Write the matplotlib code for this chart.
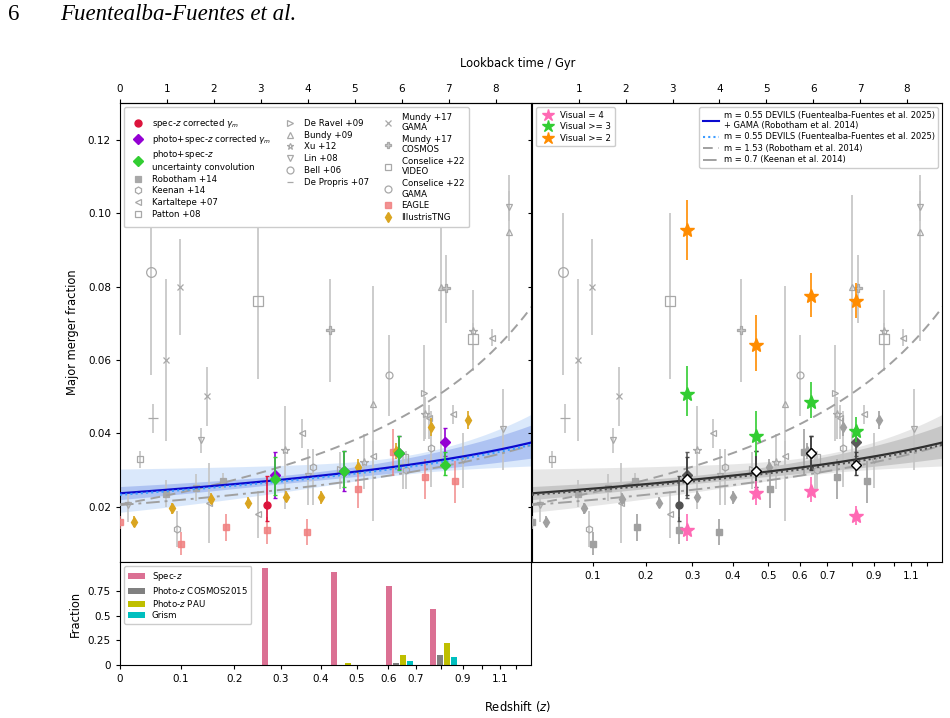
import numpy as np
import matplotlib
matplotlib.use('Agg')
import matplotlib.pyplot as plt
from matplotlib.lines import Line2D

# ---------------- cosmology helper (flat LCDM, H0=70, Om=0.3) ----------------
def lookback(z):
    z = np.atleast_1d(np.asarray(z, float))
    out = []
    for zz in z:
        zg = np.linspace(0, zz, 400)
        E = np.sqrt(0.3 * (1 + zg) ** 3 + 0.7)
        out.append(np.trapezoid(1.0 / ((1 + zg) * E), zg) * 977.8 / 70.0)
    return np.array(out)

# ---------------- literature data (x = lookback time / Gyr) ----------------
lit_names = ['Robotham +14', 'Keenan +14', 'Kartaltepe +07', 'Patton +08',
             'De Ravel +09', 'Bundy +09', 'Xu +12', 'Lin +08', 'Bell +06',
             'De Propris +07', 'Mundy +17\nGAMA', 'Mundy +17\nCOSMOS',
             'Conselice +22\nVIDEO', 'Conselice +22\nGAMA']

robotham_x = [0.99, 1.62, 2.19]
robotham_y = [0.0235, 0.0252, 0.0271]
robotham_lo = [0.0200, 0.0215, 0.0249]
robotham_hi = [0.0273, 0.0290, 0.0292]

keenan_x = [1.21, 4.11, 6.09, 6.63]
keenan_y = [0.0140, 0.0310, 0.0300, 0.0360]
keenan_lo = [0.0090, 0.0204, 0.0249, 0.0254]
keenan_hi = [0.0190, 0.0358, 0.0353, 0.0462]

kartaltepe_x = [1.90, 2.94, 3.87, 5.39, 6.58, 7.09, 7.92]
kartaltepe_y = [0.0211, 0.0181, 0.0401, 0.0339, 0.0441, 0.0453, 0.0661]
kartaltepe_lo = [0.0102, 0.0115, 0.0360, 0.0300, 0.0385, 0.0426, 0.0638]
kartaltepe_hi = [0.0320, 0.0244, 0.0439, 0.0380, 0.0477, 0.0477, 0.0684]

patton_x = [0.43]
patton_y = [0.0330]
patton_lo = [0.0305]
patton_hi = [0.0353]

deravel_x = [4.69, 6.47]
deravel_y = [0.0303, 0.0510]
deravel_lo = [0.0250, 0.0380]
deravel_hi = [0.0350, 0.0640]

bundy_x = [5.39, 6.83, 8.28]
bundy_y = [0.0480, 0.0800, 0.0949]
bundy_lo = [0.0161, 0.0303, 0.0652]
bundy_hi = [0.0801, 0.1050, 0.1105]

xu_x = [3.52, 5.20, 6.50, 7.52]
xu_y = [0.0355, 0.0323, 0.0453, 0.0679]
xu_lo = [0.0193, 0.0249, 0.0385, 0.0570]
xu_hi = [0.0474, 0.0398, 0.0500, 0.0790]

lin_x = [0.18, 1.72, 4.01, 7.30, 8.16, 8.28]
lin_y = [0.0204, 0.0382, 0.0283, 0.0328, 0.0412, 0.1018]
lin_lo = [0.0160, 0.0346, 0.0204, 0.0251, 0.0300, 0.0980]
lin_hi = [0.0240, 0.0414, 0.0358, 0.0400, 0.0520, 0.1060]

bell_x = [5.72]
bell_y = [0.0559]
bell_lo = [0.0448]
bell_hi = [0.0668]

depropris_x = [0.70]
depropris_y = [0.0441]
depropris_lo = [0.0400]
depropris_hi = [0.0480]

mundyg_x = [0.98, 1.28, 1.86]
mundyg_y = [0.0600, 0.0800, 0.0501]
mundyg_lo = [0.0380, 0.0668, 0.0419]
mundyg_hi = [0.0821, 0.0931, 0.0581]

mundyc_x = [4.47, 6.95]
mundyc_y = [0.0682, 0.0795]
mundyc_lo = [0.0540, 0.0702]
mundyc_hi = [0.0822, 0.0885]

conv_x = [2.94, 6.03, 7.52]
conv_y = [0.0761, 0.0330, 0.0657]
conv_lo = [0.0549, 0.0249, 0.0600]
conv_hi = [0.1000, 0.0350, 0.0700]

cong_x = [0.67]
cong_y = [0.0839]
cong_lo = [0.0560]
cong_hi = [0.1000]

# ---------------- simulations ----------------
eagle_x = [0.00, 1.30, 2.25, 3.14, 3.99, 5.07, 5.81, 6.50, 7.14]
eagle_y = [0.0158, 0.0099, 0.0145, 0.0137, 0.0131, 0.0249, 0.0349, 0.0281, 0.0270]
eagle_lo = [0.0140, 0.0068, 0.0108, 0.0100, 0.0095, 0.0196, 0.0283, 0.0222, 0.0211]
eagle_hi = [0.0176, 0.0131, 0.0181, 0.0172, 0.0167, 0.0290, 0.0412, 0.0330, 0.0326]

tng_x = [0.30, 1.10, 1.93, 2.72, 3.53, 4.29, 5.06, 5.87, 6.63, 7.40]
tng_y = [0.0160, 0.0196, 0.0222, 0.0211, 0.0228, 0.0226, 0.0310, 0.0353, 0.0417, 0.0437]
tng_err = [0.0015, 0.0015, 0.0015, 0.0015, 0.0015, 0.0018, 0.0020, 0.0022, 0.0025, 0.0025]

# ---------------- this work ----------------
spec_x = [3.14]
spec_y = [0.0206]
spec_lo = [0.0161]
spec_hi = [0.0285]

bin_x = [3.30, 4.78, 5.95, 6.91]
photo_y = [0.0287, 0.0297, 0.0347, 0.0376]
photo_err = [0.0062, 0.0055, 0.0045, 0.0038]
conv_y_tw = [0.0276, 0.0297, 0.0347, 0.0314]
conv_lo_tw = [0.0233, 0.0255, 0.0300, 0.0287]
conv_hi_tw = [0.0335, 0.0353, 0.0394, 0.0350]

vis4_y = [0.0136, 0.0238, 0.0243, 0.0174]
vis4_lo = [0.0106, 0.0205, 0.0213, 0.0151]
vis4_hi = [0.0181, 0.0270, 0.0281, 0.0202]
vis3_y = [0.0507, 0.0392, 0.0486, 0.0407]
vis3_lo = [0.0448, 0.0339, 0.0441, 0.0376]
vis3_hi = [0.0584, 0.0462, 0.0539, 0.0445]
vis2_y = [0.0955, 0.0640, 0.0774, 0.0761]
vis2_lo = [0.0872, 0.0570, 0.0718, 0.0715]
vis2_hi = [0.1037, 0.0724, 0.0838, 0.0811]

# ---------------- fits: f = A (1+z)^m ----------------
fit_A = 0.0237; fit_m = 0.55
devils_A = 0.0233; devils_m = 0.55
rob_A = 0.0207; rob_m = 1.53
kee_A = 0.0205; kee_m = 0.70
# band parameters (sigma lnA, sigma m, correlation)
outer_sA, outer_sm, outer_rho = 0.246, 0.48, -0.946
inner_sA, inner_sm, inner_rho = 0.075, 0.211, -0.845

# ---------------- histogram ----------------
hist_x = [3.08, 4.55, 5.72, 6.67]
hist_spec = [0.99, 0.95, 0.81, 0.57]
hist_cosmos = [0.0, 0.0, 0.025, 0.10]
hist_pau = [0.0, 0.02, 0.105, 0.225]
hist_grism = [0.0, 0.0, 0.04, 0.08]

z_ticks = [0.1, 0.2, 0.3, 0.4, 0.5, 0.6, 0.7, 0.8, 0.9, 1.0, 1.1, 1.2]
z_labels = ['0.1', '0.2', '0.3', '0.4', '0.5', '0.6', '0.7', '', '0.9', '', '1.1', '']
gyr_ticks = [0, 1, 2, 3, 4, 5, 6, 7, 8]

# =====================================================================
plt.rcParams['font.family'] = ['DejaVu Sans']
plt.rcParams['font.size'] = 7
plt.rcParams['xtick.labelsize'] = 7.5
plt.rcParams['ytick.labelsize'] = 7.5
plt.rcParams['xtick.major.size'] = 3
plt.rcParams['ytick.major.size'] = 3

fig = plt.figure(figsize=(9.5, 7.18), dpi=100)
ax1 = fig.add_axes([0.1263, 0.2173, 0.4326, 0.6392])
ax2 = fig.add_axes([0.5600, 0.2173, 0.4316, 0.6392])
axh = fig.add_axes([0.1263, 0.0738, 0.4326, 0.1435])

XMAX = 8.75
LITC = '#a8a8a8'
ERRC = '#c4c4c4'
LEGFS = 6.2

lit_sets = [
    (robotham_x, robotham_y, robotham_lo, robotham_hi, dict(marker='s', mfc=LITC, mec=LITC, ms=4)),
    (keenan_x, keenan_y, keenan_lo, keenan_hi, dict(marker='h', mfc='none', mec=LITC, ms=5)),
    (kartaltepe_x, kartaltepe_y, kartaltepe_lo, kartaltepe_hi, dict(marker='<', mfc='none', mec=LITC, ms=5)),
    (patton_x, patton_y, patton_lo, patton_hi, dict(marker='s', mfc='none', mec=LITC, ms=5)),
    (deravel_x, deravel_y, deravel_lo, deravel_hi, dict(marker='>', mfc='none', mec=LITC, ms=5)),
    (bundy_x, bundy_y, bundy_lo, bundy_hi, dict(marker='^', mfc='none', mec=LITC, ms=5)),
    (xu_x, xu_y, xu_lo, xu_hi, dict(marker='*', mfc='none', mec=LITC, ms=6)),
    (lin_x, lin_y, lin_lo, lin_hi, dict(marker='v', mfc='none', mec=LITC, ms=5)),
    (bell_x, bell_y, bell_lo, bell_hi, dict(marker='o', mfc='none', mec=LITC, ms=5)),
    (depropris_x, depropris_y, depropris_lo, depropris_hi, dict(marker='_', mfc=LITC, mec=LITC, ms=7)),
    (mundyg_x, mundyg_y, mundyg_lo, mundyg_hi, dict(marker='x', mfc=LITC, mec=LITC, ms=5)),
    (mundyc_x, mundyc_y, mundyc_lo, mundyc_hi, dict(marker='P', mfc='#c8c8c8', mec=LITC, ms=6)),
    (conv_x, conv_y, conv_lo, conv_hi, dict(marker='s', mfc='none', mec=LITC, ms=7)),
    (cong_x, cong_y, cong_lo, cong_hi, dict(marker='o', mfc='none', mec=LITC, ms=7)),
]


def plot_lit(ax):
    for xs, ys, lo, hi, st in lit_sets:
        ys_a = np.array(ys)
        yerr = [ys_a - np.array(lo), np.array(hi) - ys_a]
        ax.errorbar(xs, ys, yerr=yerr, fmt='none', ecolor=ERRC, elinewidth=1.2, zorder=2)
        ax.plot(xs, ys, ls='none', markeredgewidth=0.9, zorder=3, **st)


def model_curves(ax, main_c, dot_c, inner_c, outer_c, inner_a, outer_a):
    zg = np.linspace(0, 1.35, 200)
    xg = lookback(zg)
    L = np.log1p(zg)
    f = fit_A * (1 + zg) ** fit_m
    ho = np.sqrt(outer_sA ** 2 + 2 * outer_rho * outer_sA * outer_sm * L + outer_sm ** 2 * L ** 2)
    hi = np.sqrt(inner_sA ** 2 + 2 * inner_rho * inner_sA * inner_sm * L + inner_sm ** 2 * L ** 2)
    ax.fill_between(xg, f * np.exp(-ho), f * np.exp(ho), color=outer_c, alpha=outer_a, lw=0, zorder=1)
    ax.fill_between(xg, f * np.exp(-hi), f * np.exp(hi), color=inner_c, alpha=inner_a, lw=0, zorder=1)
    ax.plot(xg, rob_A * (1 + zg) ** rob_m, color='#a0a0a0', ls=(0, (5, 3)), lw=1.4, zorder=4)
    ax.plot(xg, kee_A * (1 + zg) ** kee_m, color='#a0a0a0', ls=(0, (7, 2.5, 1.5, 2.5)), lw=1.4, zorder=4)
    ax.plot(xg, f, color=main_c, lw=1.6, zorder=6)
    ax.plot(xg, devils_A * (1 + zg) ** devils_m, color=dot_c, ls=(0, (1, 1.5)), lw=1.5, zorder=7)


def err(y, lo, hi):
    y = np.array(y)
    return [y - np.array(lo), np.array(hi) - y]

# ---------------- left panel ----------------
plot_lit(ax1)
model_curves(ax1, '#0a0ad0', '#3c9cff', '#4a6fe0', '#5a9af0', 0.30, 0.22)
ax1.errorbar(eagle_x, eagle_y, yerr=err(eagle_y, eagle_lo, eagle_hi), fmt='s', color='#f08080',
             ms=5, alpha=0.85, elinewidth=1.2, mec='#f08080', zorder=5)
ax1.errorbar(tng_x, tng_y, yerr=tng_err, fmt='d', color='#daa520', ms=5, elinewidth=1.2, zorder=5)
ax1.errorbar(spec_x, spec_y, yerr=err(spec_y, spec_lo, spec_hi), fmt='o', color='#dc143c', ms=5,
             capsize=1.5, elinewidth=1.2, zorder=8)
ax1.errorbar(bin_x, photo_y, yerr=photo_err, fmt='D', color='#9400d3', ms=5, capsize=1.5,
             elinewidth=1.2, zorder=8)
ax1.errorbar(bin_x, conv_y_tw, yerr=err(conv_y_tw, conv_lo_tw, conv_hi_tw), fmt='D', color='#32cd32',
             ms=5, capsize=1.5, elinewidth=1.2, zorder=9)

# ---------------- right panel ----------------
plot_lit(ax2)
model_curves(ax2, '#303030', '#505050', '#808080', '#a0a0a0', 0.30, 0.25)
ax2.errorbar(eagle_x, eagle_y, yerr=err(eagle_y, eagle_lo, eagle_hi), fmt='s', color='#a0a0a0',
             ms=5, elinewidth=1.2, zorder=5)
ax2.errorbar(tng_x, tng_y, yerr=tng_err, fmt='d', color='#a0a0a0', ms=5, elinewidth=1.2, zorder=5)
ax2.errorbar(spec_x, spec_y, yerr=err(spec_y, spec_lo, spec_hi), fmt='o', color='#505050', ms=5,
             capsize=1.5, elinewidth=1.2, zorder=8)
ax2.errorbar(bin_x, photo_y, yerr=photo_err, fmt='D', color='#5a5a5a', ms=5, capsize=1.5,
             elinewidth=1.2, zorder=8)
ax2.errorbar(bin_x, conv_y_tw, yerr=err(conv_y_tw, conv_lo_tw, conv_hi_tw), fmt='D', color='#404040',
             mfc='white', mec='black', ms=5, capsize=1.5, elinewidth=1.2, zorder=9)
ax2.errorbar(bin_x, vis4_y, yerr=err(vis4_y, vis4_lo, vis4_hi), fmt='*', color='#ff69b4', ms=10,
             elinewidth=1.2, zorder=10)
ax2.errorbar(bin_x, vis3_y, yerr=err(vis3_y, vis3_lo, vis3_hi), fmt='*', color='#32cd32', ms=10,
             elinewidth=1.2, zorder=10)
ax2.errorbar(bin_x, vis2_y, yerr=err(vis2_y, vis2_lo, vis2_hi), fmt='*', color='#ff8c00', ms=10,
             elinewidth=1.2, zorder=10)

# ---------------- axes formatting ----------------
zt_pos = lookback(z_ticks)
for ax in (ax1, ax2):
    ax.set_xlim(0, XMAX)
    ax.set_ylim(0.005, 0.130)
    top = ax.secondary_xaxis('top')
    top.set_xticks(gyr_ticks if ax is ax1 else gyr_ticks[1:])

ax1.set_yticks([0.02, 0.04, 0.06, 0.08, 0.10, 0.12])
ax1.set_yticklabels(['0.02', '0.04', '0.06', '0.08', '0.10', '0.12'])
ax1.set_xticks([])
ax1.set_ylabel('Major merger fraction', fontsize=8.3, labelpad=6)
ax2.set_yticks([0.02, 0.04, 0.06, 0.08, 0.10, 0.12])
ax2.set_yticklabels([])
ax2.set_xticks(zt_pos)
ax2.set_xticklabels(z_labels)

axh.set_xlim(0, XMAX)
axh.set_ylim(0, 1.05)
axh.set_xticks(np.concatenate([[0.0], zt_pos]))
axh.set_xticklabels(['0'] + z_labels)
axh.set_yticks([0, 0.25, 0.5, 0.75])
axh.set_yticklabels(['0', '0.25', '0.5', '0.75'])
axh.set_ylabel('Fraction', fontsize=8.3)

bw = 0.128
off = 0.149
hx = np.array(hist_x)
axh.bar(hx, hist_spec, width=bw, color='#db7093', label='Spec-$z$')
axh.bar(hx + off, hist_cosmos, width=bw, color='#808080', label='Photo-$z$ COSMOS2015')
axh.bar(hx + 2 * off, hist_pau, width=bw, color='#bfbf00', label='Photo-$z$ PAU')
axh.bar(hx + 3 * off, hist_grism, width=bw, color='#00bfbf', label='Grism')
axh.legend(loc='upper left', fontsize=LEGFS, handlelength=2.0, labelspacing=0.25, borderpad=0.4,
           handletextpad=0.8, framealpha=1)

# ---------------- legends ----------------
h_main = [
    Line2D([], [], ls='none', marker='o', color='#dc143c', ms=5),
    Line2D([], [], ls='none', marker='D', color='#9400d3', ms=5),
    Line2D([], [], ls='none', marker='D', color='#32cd32', ms=5),
]
lab_main = ['spec-$z$ corrected $\\gamma_m$', 'photo+spec-$z$ corrected $\\gamma_m$',
            'photo+spec-$z$\nuncertainty convolution']
for (xs, ys, lo, hi, st) in lit_sets:
    st2 = dict(st)
    st2['ms'] = min(st['ms'], 5)
    h_main.append(Line2D([], [], ls='none', markeredgewidth=0.9, **st2))
lab_main += lit_names
h_main.append(Line2D([], [], ls='none', marker='s', color='#f08080', ms=5, alpha=0.85))
h_main.append(Line2D([], [], ls='none', marker='d', color='#daa520', ms=5))
lab_main += ['EAGLE', 'IllustrisTNG']
ax1.legend(h_main, lab_main, ncol=3, loc='upper left', fontsize=LEGFS, labelspacing=0.33,
           handletextpad=0.6, columnspacing=1.2, borderpad=0.6, framealpha=1,
           bbox_to_anchor=(0.0, 1.0))

h_vis = [Line2D([], [], ls='none', marker='*', color=c, ms=9) for c in ['#ff69b4', '#32cd32', '#ff8c00']]
leg_v = ax2.legend(h_vis, ['Visual = 4', 'Visual >= 3', 'Visual >= 2'], loc='upper left',
                   fontsize=LEGFS, labelspacing=0.3, handletextpad=0.4, borderpad=0.4, framealpha=1)
ax2.add_artist(leg_v)
h_fit = [Line2D([], [], color='#0a0ad0', lw=1.5),
         Line2D([], [], color='#3c9cff', lw=1.5, ls=(0, (1, 1.5))),
         Line2D([], [], color='#a0a0a0', lw=1.4, ls=(0, (5, 3))),
         Line2D([], [], color='#a0a0a0', lw=1.4, ls=(0, (7, 2.5, 1.5, 2.5)))]
lab_fit = ['m = 0.55 DEVILS (Fuentealba-Fuentes et al. 2025)\n+ GAMA (Robotham et al. 2014)',
           'm = 0.55 DEVILS (Fuentealba-Fuentes et al. 2025)',
           'm = 1.53 (Robotham et al. 2014)',
           'm = 0.7 (Keenan et al. 2014)']
ax2.legend(h_fit, lab_fit, loc='upper right', fontsize=6.0, labelspacing=0.3, handletextpad=0.5,
           borderpad=0.4, framealpha=1)

# ---------------- figure texts ----------------
fig.text(518 / 950, 1 - 64 / 718, 'Lookback time / Gyr', ha='center', va='center', fontsize=8.3)
fig.text(518 / 950, 1 - 706 / 718, 'Redshift ($z$)', ha='center', va='center', fontsize=8.3)
fig.text(8 / 950, 1 - 15 / 718, '6', ha='left', va='center', fontsize=16.5,
         family=['Liberation Serif', 'DejaVu Serif'])
fig.text(60 / 950, 1 - 15 / 718, 'Fuentealba-Fuentes et al.', ha='left', va='center', fontsize=16.5,
         style='italic', family=['Liberation Serif', 'DejaVu Serif'])

fig.savefig('out.png', dpi=100)
